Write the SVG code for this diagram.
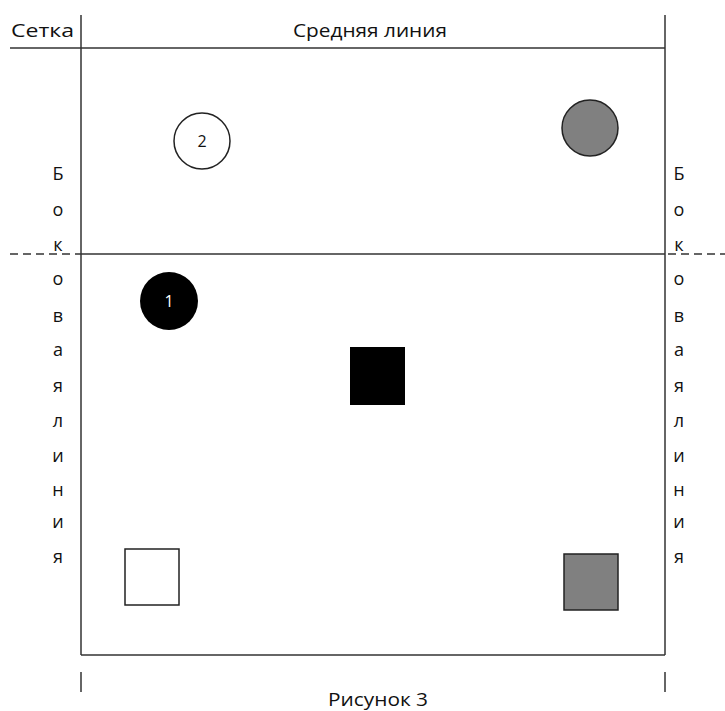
<svg xmlns="http://www.w3.org/2000/svg" width="725" height="711" viewBox="0 0 725 711">
<style>
.ln{stroke:#333;stroke-width:1.5;fill:none}
.t{font-family:"Open Sans","DejaVu Sans",sans-serif;font-size:19px;fill:#111}
.v{font-family:"Open Sans","DejaVu Sans",sans-serif;font-size:18px;fill:#111;text-anchor:middle}
.n{font-family:"Open Sans","DejaVu Sans",sans-serif;font-size:16px;fill:#111;text-anchor:middle}
.sh{stroke:#222;stroke-width:1.5}
</style>
<rect width="725" height="711" fill="#fff"/>
<g id="court">
<line class="ln" x1="81" y1="15" x2="81" y2="655"/>
<line class="ln" x1="665" y1="15" x2="665" y2="655"/>
<line class="ln" x1="10" y1="48" x2="665" y2="48"/>
<line class="ln" x1="81" y1="254" x2="665" y2="254"/>
<line class="ln" x1="81" y1="655" x2="665" y2="655"/>
<line class="ln" x1="10" y1="254" x2="81" y2="254" stroke-dasharray="8,5"/>
<line class="ln" x1="668" y1="254" x2="725" y2="254" stroke-dasharray="8,5"/>
<line class="ln" x1="81" y1="672" x2="81" y2="692"/>
<line class="ln" x1="665" y1="672" x2="665" y2="692"/>
</g>
<g id="labels">
<text class="t" x="11" y="37" textLength="63" lengthAdjust="spacingAndGlyphs">Сетка</text>
<text class="t" x="293" y="37" textLength="154" lengthAdjust="spacingAndGlyphs">Средняя линия</text>
<text class="t" x="328" y="706" textLength="100" lengthAdjust="spacingAndGlyphs">Рисунок 3</text>
</g>
<g id="side-left">
<text class="v" x="58" y="180">Б</text>
<text class="v" x="58" y="216">о</text>
<text class="v" x="58" y="251">к</text>
<text class="v" x="58" y="285">о</text>
<text class="v" x="58" y="322">в</text>
<text class="v" x="58" y="356">а</text>
<text class="v" x="58" y="392">я</text>
<text class="v" x="58" y="427">л</text>
<text class="v" x="58" y="462">и</text>
<text class="v" x="58" y="496">н</text>
<text class="v" x="58" y="528">и</text>
<text class="v" x="58" y="563">я</text>
</g>
<g id="side-right">
<text class="v" x="679" y="180">Б</text>
<text class="v" x="679" y="216">о</text>
<text class="v" x="679" y="251">к</text>
<text class="v" x="679" y="285">о</text>
<text class="v" x="679" y="322">в</text>
<text class="v" x="679" y="356">а</text>
<text class="v" x="679" y="392">я</text>
<text class="v" x="679" y="427">л</text>
<text class="v" x="679" y="462">и</text>
<text class="v" x="679" y="496">н</text>
<text class="v" x="679" y="528">и</text>
<text class="v" x="679" y="563">я</text>
</g>
<g id="player2">
<circle class="sh" cx="202" cy="141" r="28" fill="#fff"/>
<text class="n" x="202" y="147">2</text>
</g>
<g id="gray-circle">
<circle class="sh" cx="590" cy="128" r="28" fill="#808080"/>
</g>
<g id="player1">
<circle cx="169" cy="301" r="29" fill="#000"/>
<text class="n" x="169" y="307" style="fill:#fff">1</text>
</g>
<g id="black-square">
<rect x="350" y="347" width="55" height="58" fill="#000"/>
</g>
<g id="white-square">
<rect class="sh" x="125" y="549" width="54" height="56" fill="#fff"/>
</g>
<g id="gray-square">
<rect class="sh" x="564" y="554" width="54" height="56" fill="#808080"/>
</g>
</svg>
